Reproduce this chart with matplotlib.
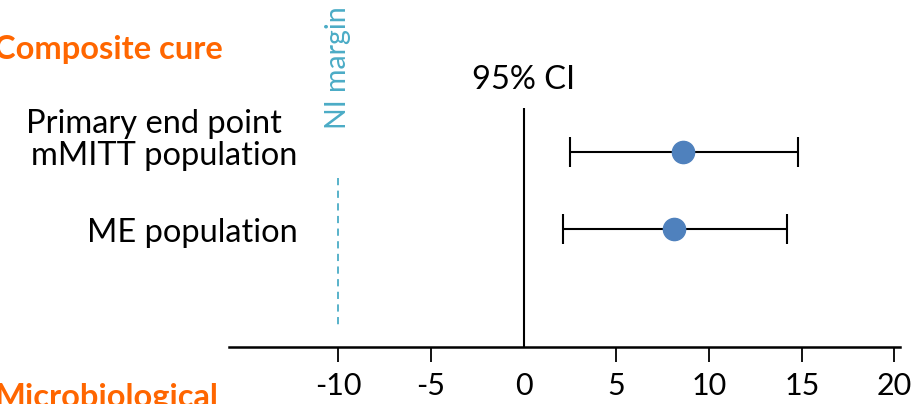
import matplotlib
matplotlib.use("Agg")
import matplotlib.pyplot as plt

plt.rcParams["font.family"] = ["Lato", "DejaVu Sans"]

# data
label_top = ["Primary end point", ""]
label_main = ["mMITT population", "ME population"]
estimate = [8.6, 8.1]
ci_low = [2.5, 2.1]
ci_high = [14.8, 14.2]
ni_margin = -10
xticks = [-10, -5, 0, 5, 10, 15, 20]

W, H = 916, 404
fig = plt.figure(figsize=(W / 100, H / 100), dpi=100)

# axes box in pixels: left 229, right 900, top 108, bottom 347
left, right, top, bottom = 229, 900, 108, 347
ax = fig.add_axes([left / W, 1 - bottom / H, (right - left) / W, (bottom - top) / H])
ax.set_xlim(-15.9, 20.3)
ax.set_ylim(3.53, 0.43)
ypos = [1, 2]

for s in ["top", "right", "left"]:
    ax.spines[s].set_visible(False)
ax.spines["bottom"].set_linewidth(1.8)
ax.set_yticks([])
ax.set_xticks(xticks)
ax.set_xticklabels([str(t) for t in xticks], fontsize=22)  # plain hyphen, not unicode minus
ax.tick_params(axis="x", length=11, width=1.3, pad=7, direction="out")
ax.xaxis.get_major_ticks()[xticks.index(0)].tick1line.set_visible(False)

# zero line and NI margin
ax.axvline(0, color="black", lw=1.5)
ax.plot([ni_margin, ni_margin], [1.34, 3.29], color="#4bacc6", lw=1.3, ls=(0, (4, 3)))

err = [[e - l for e, l in zip(estimate, ci_low)], [h - e for e, h in zip(estimate, ci_high)]]
ax.errorbar(estimate, ypos, xerr=err, fmt="o", color="#4f81bd", ms=16,
            ecolor="black", elinewidth=1.5, capsize=11, capthick=1.5, zorder=3)

for y, t1, t2 in zip(ypos, label_top, label_main):
    ax.text(-12.19, y + 0.05, t2, ha="right", va="center", fontsize=23.5, clip_on=False)
    if t1:
        ax.text(-13.05, y - 0.36, t1, ha="right", va="center", fontsize=23.5, clip_on=False)

ax.text(0, 0.065, "95% CI", ha="center", va="center", fontsize=23.5, clip_on=False)
ax.text(ni_margin, -0.10, "NI margin", rotation=90, ha="center", va="center",
        fontsize=20.5, color="#4bacc6", clip_on=False)

fig.text(-6 / W, 1 - 50 / H, "Composite cure", color="#ff6600", fontsize=23.5,
         fontweight="bold", va="center", ha="left")
fig.text(-6 / W, 1 - 397 / H, "Microbiological", color="#ff6600", fontsize=23.5,
         fontweight="bold", va="center", ha="left")

fig.savefig("out.png", dpi=100)
